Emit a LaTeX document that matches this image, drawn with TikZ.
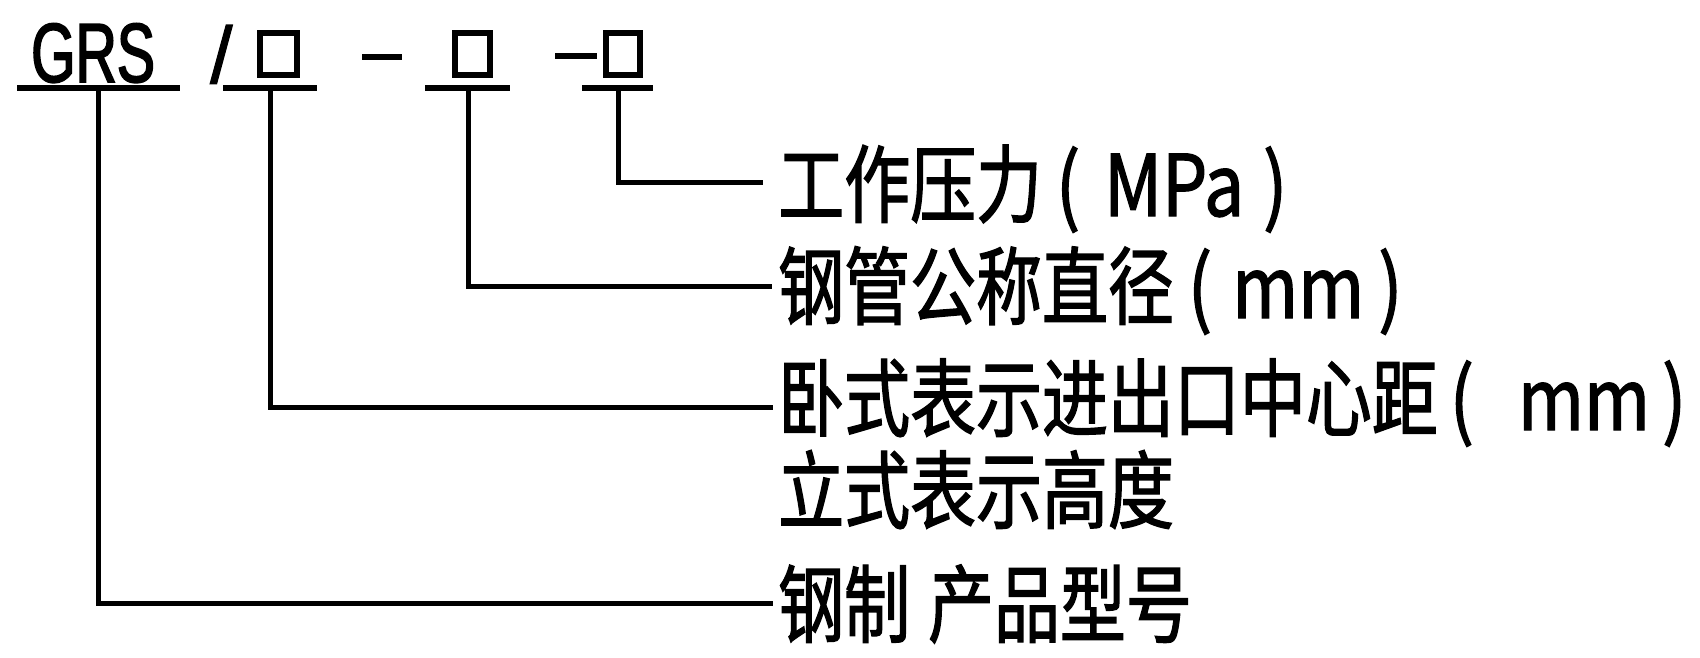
\documentclass[tikz,border=0pt]{standalone}
\usepackage{fontspec}
\newfontfamily\cjk[FakeStretch=0.776,FakeBold=1.5]{Noto Sans CJK SC}
\newfontfamily\latn[FakeStretch=0.84,FakeBold=1.5]{Noto Sans CJK SC}
\newfontfamily\grsfont[FakeStretch=0.68,FakeBold=2]{Liberation Sans}
\newfontfamily\slfont[FakeBold=1.5]{Liberation Sans}
\begin{document}
\begin{tikzpicture}[x=1pt,y=-1pt,
  lead/.style={line width=5pt,line cap=butt},
  uline/.style={line width=6pt},
  slot/.style={line width=6pt},
  lbl/.style={anchor=base west,inner sep=0pt,font=\cjk\fontsize{85}{85}\selectfont},
  code/.style={anchor=base west,inner sep=0pt,font=\grsfont\fontsize{84}{84}\selectfont}]
\useasboundingbox (0,0) rectangle (1700,658);
% top code
\node[code] (grs) at (31,82) {GRS};
\node[code,font=\slfont\fontsize{80}{80}\selectfont] (sl) at (210,83) {/};
\draw[slot] (260,33) rectangle (297,75);
\draw[slot] (455,33) rectangle (490,75);
\draw[slot] (606,33) rectangle (640,75);
\draw[uline] (362,57) -- (402,57);
\draw[uline] (555,56) -- (597,56);
% underlines
\coordinate (u0a) at (17,88); \coordinate (u0b) at (180,88);
\coordinate (u1a) at (223,88); \coordinate (u1b) at (317,88);
\coordinate (u2a) at (425,88); \coordinate (u2b) at (510,88);
\coordinate (u3a) at (582,88); \coordinate (u3b) at (653,88);
\draw[uline] (u0a) -- (u0b);
\draw[uline] (u1a) -- (u1b);
\draw[uline] (u2a) -- (u2b);
\draw[uline] (u3a) -- (u3b);
% labels
\node[lbl] (l1) at (778,216) {工作压力\hspace{14pt}{\latn(\hspace{24pt}MPa\hspace{19pt})}};
\node[lbl] (l2) at (778,318) {钢管公称直径\hspace{14pt}{\latn(\hspace{20pt}mm\hspace{14pt})}};
\node[lbl] (l3) at (778,430) {卧式表示进出口中心距\hspace{12pt}{\latn(\hspace{44pt}mm\hspace{12pt})}};
\node[lbl] (l4) at (778,522) {立式表示高度};
\node[lbl] (l5) at (778,636) {钢制\hspace{18pt}产品型号};
% leaders
\coordinate (t0) at (98,88); \coordinate (e0) at (773,603);
\coordinate (t1) at (270,88); \coordinate (e1) at (773,407);
\coordinate (t2) at (468,88); \coordinate (e2) at (772,286);
\coordinate (t3) at (618,88); \coordinate (e3) at (763,182);
\draw[lead] (t0) |- (e0);
\draw[lead] (t1) |- (e1);
\draw[lead] (t2) |- (e2);
\draw[lead] (t3) |- (e3);
\end{tikzpicture}
\end{document}
